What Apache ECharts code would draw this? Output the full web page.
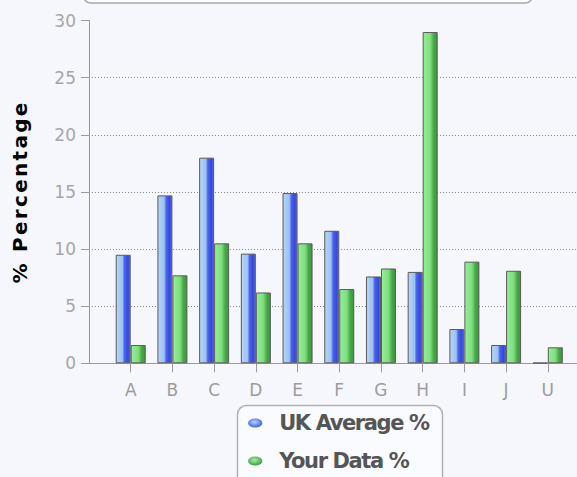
<!DOCTYPE html>
<html><head><meta charset="utf-8">
<script src="https://cdn.jsdelivr.net/npm/echarts@6/dist/echarts.min.js"></script>
<style>html,body{margin:0;padding:0;background:#f5f7fd;overflow:hidden}#c{width:577px;height:477px}</style>
</head><body><div id="c"></div>
<script>
const categories = ['A','B','C','D','E','F','G','H','I','J','U'];
const ukAverage = [9.5, 14.7, 18.0, 9.6, 14.9, 11.6, 7.6, 8.0, 3.0, 1.6, 0.05];
const yourData = [1.6, 7.7, 10.5, 6.2, 10.5, 6.5, 8.3, 29.0, 8.9, 8.1, 1.4];
const seriesNames = ['UK Average %', 'Your Data %'];
const yAxisTitle = '% Percentage';

const catIndex = categories.map((c, i) => i);
const blueFill = new echarts.graphic.LinearGradient(0, 0, 1, 0, [
  {offset: 0, color: '#b6d5f8'}, {offset: 0.45, color: '#9cc2f1'},
  {offset: 0.58, color: '#4d66ea'}, {offset: 0.85, color: '#3446e0'}, {offset: 1, color: '#5b70e6'}]);
const greenFill = new echarts.graphic.LinearGradient(0, 0, 1, 0, [
  {offset: 0, color: '#96ee96'}, {offset: 0.5, color: '#80de80'},
  {offset: 0.75, color: '#48a848'}, {offset: 1, color: '#3a963a'}]);
const blueIcon = new echarts.graphic.RadialGradient(0.45, 0.4, 0.6, [
  {offset: 0, color: '#b8d6fa'}, {offset: 1, color: '#3d60e0'}]);
const greenIcon = new echarts.graphic.RadialGradient(0.45, 0.4, 0.6, [
  {offset: 0, color: '#a6f0a6'}, {offset: 1, color: '#3c9c3c'}]);
const ellipse = 'path://M0,5 A8,5 0 1,1 16,5 A8,5 0 1,1 0,5 Z';

const chart = echarts.init(document.getElementById('c'), null, {renderer: 'svg'});
chart.setOption({
  animation: false,
  backgroundColor: '#f5f7fd',
  grid: {left: 89, right: 0, top: 20.6, bottom: 113.7},
  xAxis: {
    type: 'value', min: -1, max: 10.7, interval: 1,
    axisLine: {show: true, lineStyle: {color: '#9a9a9a', width: 1}},
    axisTick: {show: true, customValues: catIndex, length: 9, lineStyle: {color: '#9a9a9a'}},
    axisLabel: {customValues: catIndex, formatter: v => categories[v] || '', color: '#9c9c9c',
      fontSize: 17, fontFamily: 'DejaVu Sans', margin: 18},
    splitLine: {show: false}
  },
  yAxis: {
    type: 'value', min: 0, max: 30, interval: 5,
    name: yAxisTitle, nameLocation: 'middle', nameGap: 59, nameRotate: 90,
    nameTextStyle: {color: '#000', fontSize: 20, fontWeight: 'bold', fontFamily: 'DejaVu Sans'},
    axisLine: {show: true, onZero: false, lineStyle: {color: '#9a9a9a', width: 1}},
    axisTick: {show: true, length: 8, lineStyle: {color: '#9a9a9a'}},
    axisLabel: {color: '#a6a6a6', fontSize: 17, fontFamily: 'DejaVu Sans', margin: 13},
    splitLine: {show: true, showMaxLine: false, lineStyle: {color: '#8a8a8a', type: [1, 2], width: 1}}
  },
  legend: {
    orient: 'vertical', left: 248, top: 412, itemWidth: 16, itemHeight: 9, itemGap: 16,
    padding: 0, z: 10,
    textStyle: {color: '#555', fontSize: 21, fontWeight: 'bold', fontFamily: 'DejaVu Sans',
      lineHeight: 22, padding: [0, 0, 0, 11]},
    data: [
      {name: seriesNames[0], icon: ellipse, itemStyle: {color: blueIcon, borderWidth: 0}},
      {name: seriesNames[1], icon: ellipse, itemStyle: {color: greenIcon, borderWidth: 0}}
    ]
  },
  graphic: [
    {type: 'rect', z: 0, shape: {x: 83, y: -20, width: 450, height: 23, r: 8},
     style: {fill: '#fbfcfe', stroke: '#a8a8a8', lineWidth: 1.5}},
    {type: 'rect', z: 0, shape: {x: 237.5, y: 405.5, width: 205, height: 90, r: 9},
     style: {fill: '#fafbfe', stroke: '#b0b0b0', lineWidth: 1.5}}
  ],
  series: [
    {name: seriesNames[0], type: 'bar', barWidth: 15, barGap: '0%',
     data: ukAverage.map((v, i) => [i, v]),
     itemStyle: {color: blueFill, borderColor: '#5a5a5a', borderWidth: 1}},
    {name: seriesNames[1], type: 'bar', barWidth: 15, barGap: '0%',
     data: yourData.map((v, i) => [i, v]),
     itemStyle: {color: greenFill, borderColor: '#5a5a5a', borderWidth: 1}}
  ]
});
document.querySelectorAll('#c text').forEach(t => {
  if (t.textContent === yAxisTitle) t.setAttribute('letter-spacing', '2.3');
  if (seriesNames.indexOf(t.textContent) >= 0) t.setAttribute('letter-spacing', '-1.4');
});
</script>
</body></html>
